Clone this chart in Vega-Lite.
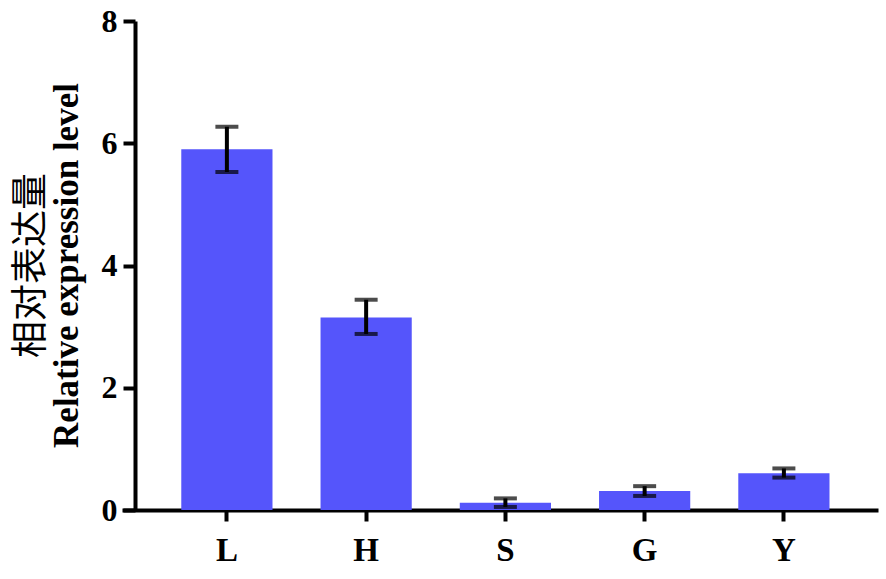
{
  "$schema": "https://vega.github.io/schema/vega-lite/v6.json",
  "autosize": "none",
  "width": 756,
  "height": 489,
  "padding": {"left": 122, "top": 21, "right": 8, "bottom": 69},
  "background": "white",
  "title": {
    "text": "相对表达量",
    "subtitle": "Relative expression level",
    "orient": "left",
    "anchor": "middle",
    "font": "Noto Sans CJK SC",
    "fontSize": 37,
    "fontWeight": "normal",
    "color": "black",
    "subtitleFont": "Liberation Serif",
    "subtitleFontSize": 35,
    "subtitleFontWeight": "bold",
    "subtitleColor": "black",
    "subtitlePadding": -1,
    "offset": 15
  },
  "data": {
    "values": [
      {"g": "L", "v": 5.90, "lo": 5.53, "hi": 6.27},
      {"g": "H", "v": 3.15, "lo": 2.88, "hi": 3.44},
      {"g": "S", "v": 0.12, "lo": 0.05, "hi": 0.19},
      {"g": "G", "v": 0.31, "lo": 0.23, "hi": 0.39},
      {"g": "Y", "v": 0.60, "lo": 0.53, "hi": 0.68}
    ]
  },
  "encoding": {
    "x": {
      "field": "g",
      "type": "nominal",
      "sort": null,
      "scale": {"paddingInner": 0.345, "paddingOuter": 0.387, "align": 0.55},
      "axis": {
        "title": null,
        "labelAngle": 0,
        "labelFont": "Liberation Serif",
        "labelFontWeight": "bold",
        "labelFontSize": 33,
        "labelColor": "black",
        "labelPadding": 13,
        "domainColor": "black",
        "domainWidth": 4,
        "tickColor": "black",
        "tickWidth": 4,
        "tickSize": 11
      }
    }
  },
  "layer": [
    {
      "mark": {"type": "bar", "color": "#5555FB"},
      "encoding": {
        "y": {
          "field": "v",
          "type": "quantitative",
          "scale": {"domain": [0, 8]},
          "axis": {
            "title": null,
            "values": [0, 2, 4, 6, 8],
            "format": "d",
            "offset": -13,
            "grid": false,
            "labelFont": "Liberation Serif",
            "labelFontWeight": "bold",
            "labelFontSize": 32,
            "labelColor": "black",
            "labelPadding": 6,
            "domainColor": "black",
            "domainWidth": 4,
            "tickColor": "black",
            "tickWidth": 4,
            "tickSize": 12
          }
        }
      }
    },
    {
      "mark": {"type": "rule", "color": "black", "strokeWidth": 4},
      "encoding": {
        "y": {"field": "lo", "type": "quantitative"},
        "y2": {"field": "hi"}
      }
    },
    {
      "mark": {"type": "tick", "color": "black", "thickness": 4, "size": 23},
      "encoding": {"y": {"field": "lo", "type": "quantitative"}}
    },
    {
      "mark": {"type": "tick", "color": "black", "thickness": 4, "size": 23},
      "encoding": {"y": {"field": "hi", "type": "quantitative"}}
    }
  ],
  "config": {"view": {"stroke": null}, "axis": {"grid": false}}
}
